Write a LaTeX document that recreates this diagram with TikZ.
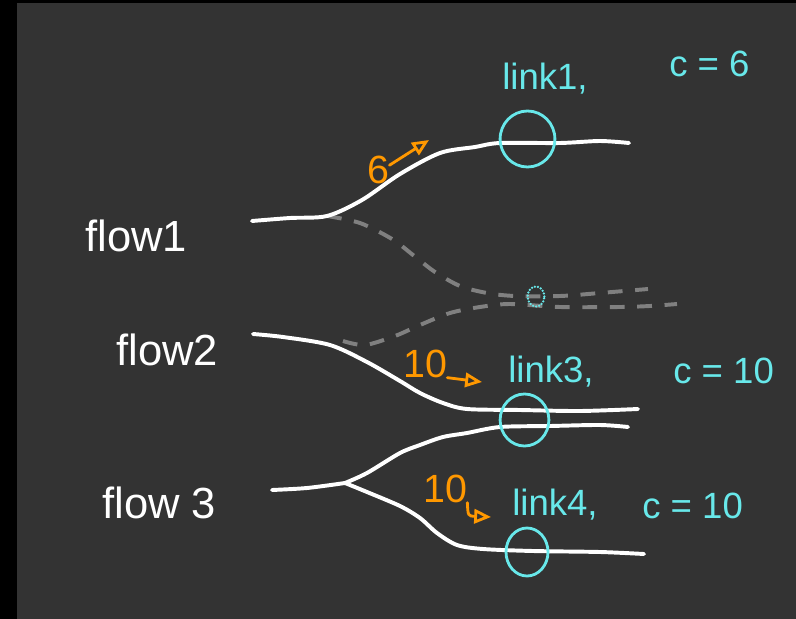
\documentclass[tikz,border=0pt]{standalone}
\usepackage{fontspec}
\setmainfont{Liberation Sans}
\usetikzlibrary{arrows.meta, shapes.geometric}

\definecolor{board}{RGB}{51,51,51}
\definecolor{linkcyan}{RGB}{104,232,234}
\definecolor{rateorange}{RGB}{255,152,0}
\definecolor{ghostgray}{RGB}{128,128,128}

\begin{document}
\begin{tikzpicture}[x=0.25mm, y=-0.25mm,
  flowline/.style={white, line width=2.8pt, line cap=round, line join=round},
  ghostline/.style={ghostgray, line width=2.8pt, dash pattern=on 10.5pt off 9pt},
  ring/.style={ellipse, draw=linkcyan, line width=2pt, inner sep=0pt},
  flowlbl/.style={text=white, anchor=base west, inner sep=0pt,
                  font=\fontsize{31}{37}\selectfont},
  linklbl/.style={text=linkcyan, anchor=base west, inner sep=0pt,
                  font=\fontsize{26}{31}\selectfont},
  ratelbl/.style={text=rateorange, anchor=base west, inner sep=0pt,
                  font=\fontsize{28}{33}\selectfont},
  ratearrow/.style={rateorange, line width=2pt, line cap=round,
                    -{Triangle[open, length=4.2mm, width=3.6mm]}}]
  % board
  \fill[black] (0,0) rectangle (796,619);
  \fill[board] (17,3) rectangle (796,619);

  % flow names
  \node[flowlbl] (flow1) at (85,251) {flow1};
  \node[flowlbl] (flow2) at (116,365) {flow2};
  \node[flowlbl] (flow3) at (102,518) {flow 3};

  % line ends
  \coordinate (f1in) at (252,221);
  \coordinate (f1bend) at (327,216);
  \coordinate (f1out) at (629,143);
  \coordinate (f2in) at (253,334);
  \coordinate (f2out) at (638,409);
  \coordinate (f3in) at (272,490);
  \coordinate (split) at (345,483);
  \coordinate (f3upout) at (628,427);
  \coordinate (f3dnout) at (644,554);
  \coordinate (g1out) at (648,289);
  \coordinate (g2in) at (343,341);
  \coordinate (g2out) at (677,304);

  % unused paths
  \draw[ghostline] plot[smooth, tension=0.5] coordinates
    {(f1bend) (360,223) (392,239) (413,255) (435,272) (460,286) (487,293)
     (515,296) (560,296) (600,293) (g1out)};
  \draw[ghostline] plot[smooth, tension=0.5] coordinates
    {(g2in) (365,345) (395,336) (420,325) (450,313) (480,307) (510,304)
     (560,307) (620,307) (650,306) (g2out)};

  % flows
  \draw[flowline] plot[smooth, tension=0.5] coordinates
    {(f1in) (290,218) (f1bend) (362,200) (400,174) (440,153) (475,147)
     (500,143) (560,143) (600,141) (f1out)};
  \draw[flowline] plot[smooth, tension=0.5] coordinates
    {(f2in) (283,337) (330,345) (367,362) (400,381) (420,393) (443,403)
     (467,409) (520,410) (580,411) (f2out)};
  \draw[flowline] plot[smooth, tension=0.5] coordinates
    {(f3in) (307,488) (split)};
  \draw[flowline] plot[smooth, tension=0.5] coordinates
    {(split) (367,473) (400,453) (420,445) (443,437) (467,433) (500,427)
     (550,426) (600,425) (f3upout)};
  \draw[flowline] plot[smooth, tension=0.5] coordinates
    {(split) (367,492) (400,506) (420,518) (437,533) (457,545) (483,549)
     (533,551) (600,552) (f3dnout)};

  % links
  \node[ring, minimum width=1.37cm, minimum height=1.4cm] (link1) at (527.5,139) {};
  \node[ring, minimum width=1.22cm, minimum height=1.3cm] (link3) at (524.5,420) {};
  \node[ring, minimum width=1.05cm, minimum height=1.2cm] (link4) at (527,552) {};
  \node[ellipse, draw=linkcyan, line width=1.8pt, line cap=round,
        dash pattern=on 0pt off 2.2pt, inner sep=0pt,
        minimum width=0.42cm, minimum height=0.5cm] (link2) at (536,296.5) {};

  \node[linklbl] (name1) at (502,90) {link1,};
  \node[linklbl] (cap1) at (669,77) {c = 6};
  \node[linklbl] (name3) at (508,382) {link3,};
  \node[linklbl] (cap3) at (673,383) {c = 10};
  \node[linklbl] (name4) at (512,515) {link4,};
  \node[linklbl] (cap4) at (642,518) {c = 10};

  % rates
  \node[ratelbl] (rate1) at (367,183) {6};
  \node[ratelbl] (rate2) at (403,377) {10};
  \node[ratelbl] (rate3) at (423,502) {10};
  \coordinate (rate1tip) at (429,140);
  \coordinate (rate2tip) at (482,382);
  \coordinate (rate3tip) at (491,517);
  \draw[ratearrow] ([yshift=3pt]rate1.east) -- (rate1tip);
  \draw[ratearrow] (rate2.south east) -- (rate2tip);
  \draw[ratearrow] (rate3.south east) .. controls (468,516) .. (rate3tip);
\end{tikzpicture}
\end{document}
